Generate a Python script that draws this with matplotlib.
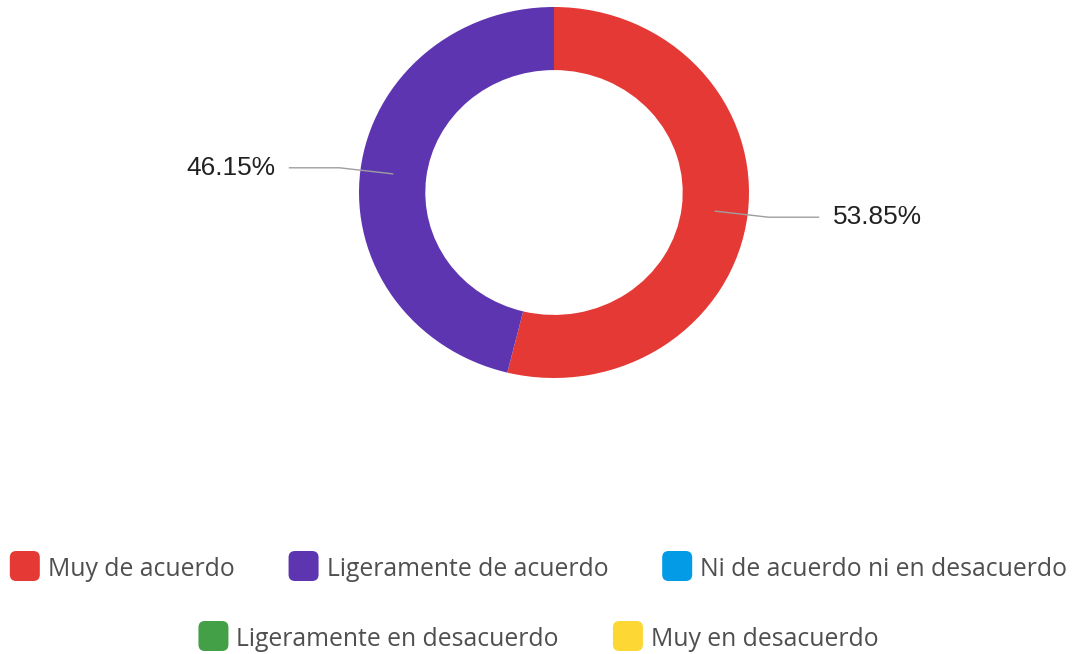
import numpy as np
import matplotlib
matplotlib.use("Agg")
import matplotlib.pyplot as plt
from matplotlib.patches import FancyBboxPatch

# data
labels = ["Muy de acuerdo", "Ligeramente de acuerdo", "Ni de acuerdo ni en desacuerdo",
          "Ligeramente en desacuerdo", "Muy en desacuerdo"]
values = [53.85, 46.15, 0, 0, 0]
colors = ["#E53935", "#5E35B1", "#039BE5", "#43A047", "#FDD835"]
legend_rows = [[0, 1, 2], [3, 4]]

W, H = 1073, 654
fig = plt.figure(figsize=(W / 100, H / 100), dpi=100)
ax = fig.add_axes([0, 0, 1, 1])

# donut center / radii in pixels (slightly squashed vertically like the original)
cx, cy = 554, 192.5
rx, ry = 195, 185.5

shown = [(v, c) for v, c in zip(values, colors) if v > 0]
wedges, _ = ax.pie([v for v, c in shown], colors=[c for v, c in shown],
                   startangle=90, counterclock=False, radius=1,
                   wedgeprops=dict(width=0.34, linewidth=0))
ax.set_aspect("auto")
ax.set_xlim((0 - cx) / rx, (W - cx) / rx)
ax.set_ylim(-(H - cy) / ry, cy / ry)
ax.axis("off")

# percentage labels with leader lines
for w, (v, c) in zip(wedges, shown):
    mid = np.deg2rad((w.theta1 + w.theta2) / 2)
    x0, y0 = 0.83 * np.cos(mid), 0.83 * np.sin(mid)
    s = np.sign(np.cos(mid))
    xe, ye = 1.1 * s, y0 * 1.33
    x1 = 1.36 * s
    ax.plot([x0, xe, x1], [y0, ye, ye], color="#9e9e9e", lw=1, solid_capstyle="butt")
    ax.text(x1 + 0.07 * s, ye, f"{v:.2f}%", ha="left" if s > 0 else "right",
            va="center", fontsize=18.9, color="#212121", family="Liberation Sans")

# legend drawn by hand, rows centered
fig.canvas.draw()
r = fig.canvas.get_renderer()
sq, gap_t, gap_i = 30, 8, 54
row_y = [566, 636]
for row, yc in zip(legend_rows, row_y):
    texts = []
    for i in row:
        t = fig.text(0, 1 - yc / H, labels[i], fontsize=17.8, color="#4f4f4f",
                     family="Open Sans", va="center_baseline", ha="left")
        texts.append(t)
    widths = [t.get_window_extent(r).width for t in texts]
    total = sum(sq + gap_t + wd for wd in widths) + gap_i * (len(row) - 1)
    x = W / 2 + 2 - total / 2
    for i, t, wd in zip(row, texts, widths):
        box = FancyBboxPatch((x / W, (H - yc - sq / 2) / H), sq / W, sq / H,
                             boxstyle="round,pad=0,rounding_size=0.006",
                             transform=fig.transFigure, facecolor=colors[i],
                             edgecolor="none", mutation_aspect=W / H)
        fig.add_artist(box)
        t.set_x((x + sq + gap_t) / W)
        x += sq + gap_t + wd + gap_i

fig.savefig("out.png", dpi=100)
